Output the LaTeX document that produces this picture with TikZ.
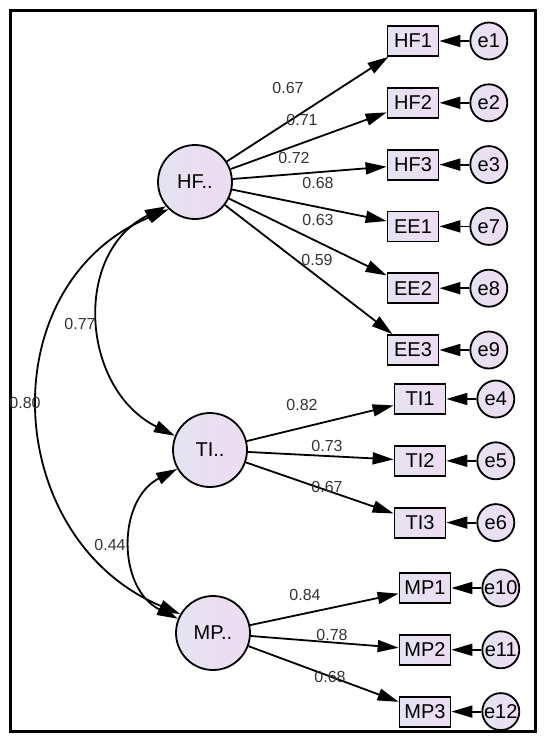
\documentclass[tikz,border=0pt]{standalone}
\usepackage{fontspec}
\setmainfont{Liberation Sans}
\usepackage{xcolor}
\usetikzlibrary{arrows.meta, positioning}
\definecolor{fillL}{HTML}{E4E3F1}
\definecolor{fillR}{HTML}{EEDCF2}

\begin{document}
\begin{tikzpicture}[x=1pt, y=-1pt, node distance=30pt, line width=1.8pt,
  every node/.style={font=\fontsize{20}{22}\selectfont},
  latent/.style={draw, circle, minimum size=74pt, inner sep=0pt, left color=fillL, right color=fillR},
  obs/.style={draw, rectangle, minimum width=51pt, minimum height=30pt, inner sep=0pt, left color=fillL, right color=fillR},
  err/.style={draw, circle, minimum size=37pt, inner sep=0pt, left color=fillL, right color=fillR},
  val/.style={font=\fontsize{16}{18}\selectfont, text=black!80, inner sep=1pt},
  load/.style={-{Triangle[length=21pt, width=12pt]}},
  cov/.style={{Triangle[length=21pt, width=12pt]}-{Triangle[length=21pt, width=12pt]}}]
\useasboundingbox (0,0) rectangle (550,748);
\draw[line width=3pt] (10,10) rectangle (535,731);

% latent factors
\node[latent] (HF) at (195,182) {HF..};
\node[latent] (TI) at (210,450) {TI..};
\node[latent] (MP) at (213,633) {MP..};

% indicators
\node[obs] (HF1) at (413,41) {HF1};
\node[obs, below=of HF1] (HF2) {HF2};
\node[obs, below=of HF2] (HF3) {HF3};
\node[obs, below=of HF3] (EE1) {EE1};
\node[obs, below=of EE1] (EE2) {EE2};
\node[obs, below=of EE2] (EE3) {EE3};
\node[obs] (TI1) at (420,399) {TI1};
\node[obs, below=of TI1] (TI2) {TI2};
\node[obs, below=of TI2] (TI3) {TI3};
\node[obs] (MP1) at (425,588) {MP1};
\node[obs, below=of MP1] (MP2) {MP2};
\node[obs, below=of MP2] (MP3) {MP3};

% error terms
\node[err, right=of HF1] (e1) {e1};
\node[err, right=of HF2] (e2) {e2};
\node[err, right=of HF3] (e3) {e3};
\node[err, right=of EE1] (e7) {e7};
\node[err, right=of EE2] (e8) {e8};
\node[err, right=of EE3] (e9) {e9};
\node[err, right=of TI1] (e4) {e4};
\node[err, right=of TI2] (e5) {e5};
\node[err, right=of TI3] (e6) {e6};
\node[err, right=of MP1] (e10) {e10};
\node[err, right=of MP2] (e11) {e11};
\node[err, right=of MP3] (e12) {e12};

% loadings
\draw[load] (HF) -- (HF1);
\draw[load] (HF) -- (HF2);
\draw[load] (HF) -- (HF3);
\draw[load] (HF) -- (EE1);
\draw[load] (HF) -- (EE2);
\draw[load] (HF) -- (EE3);
\draw[load] (TI) -- (TI1);
\draw[load] (TI) -- (TI2);
\draw[load] (TI) -- (TI3);
\draw[load] (MP) -- (MP1);
\draw[load] (MP) -- (MP2);
\draw[load] (MP) -- (MP3);

\node[val] (lHF1) at (288,88) {0.67};
\node[val] (lHF2) at (302,120) {0.71};
\node[val] (lHF3) at (294,158) {0.72};
\node[val] (lEE1) at (318,183) {0.68};
\node[val] (lEE2) at (318,220) {0.63};
\node[val] (lEE3) at (317,260) {0.59};
\node[val] (lTI1) at (302,405) {0.82};
\node[val] (lTI2) at (327,446) {0.73};
\node[val] (lTI3) at (327,487) {0.67};
\node[val] (lMP1) at (305,595) {0.84};
\node[val] (lMP2) at (332,635) {0.78};
\node[val] (lMP3) at (330,677) {0.68};

% residuals
\draw[load] (e1) -- (HF1);
\draw[load] (e2) -- (HF2);
\draw[load] (e3) -- (HF3);
\draw[load] (e7) -- (EE1);
\draw[load] (e8) -- (EE2);
\draw[load] (e9) -- (EE3);
\draw[load] (e4) -- (TI1);
\draw[load] (e5) -- (TI2);
\draw[load] (e6) -- (TI3);
\draw[load] (e10) -- (MP1);
\draw[load] (e11) -- (MP2);
\draw[load] (e12) -- (MP3);

% covariances
\draw[cov] (HF.220) .. controls (72,253) and (81,389) .. (TI.158);
\draw[cov] (HF.226) .. controls (-11,284) and (1,539) .. (MP.150);
\draw[cov] (TI.210) .. controls (117,500) and (117,588) .. (MP.158);
\node[val] (cHT) at (80,324) {0.77};
\node[val] (cHM) at (25,403) {0.80};
\node[val] (cTM) at (110,545) {0.44};
\end{tikzpicture}
\end{document}
